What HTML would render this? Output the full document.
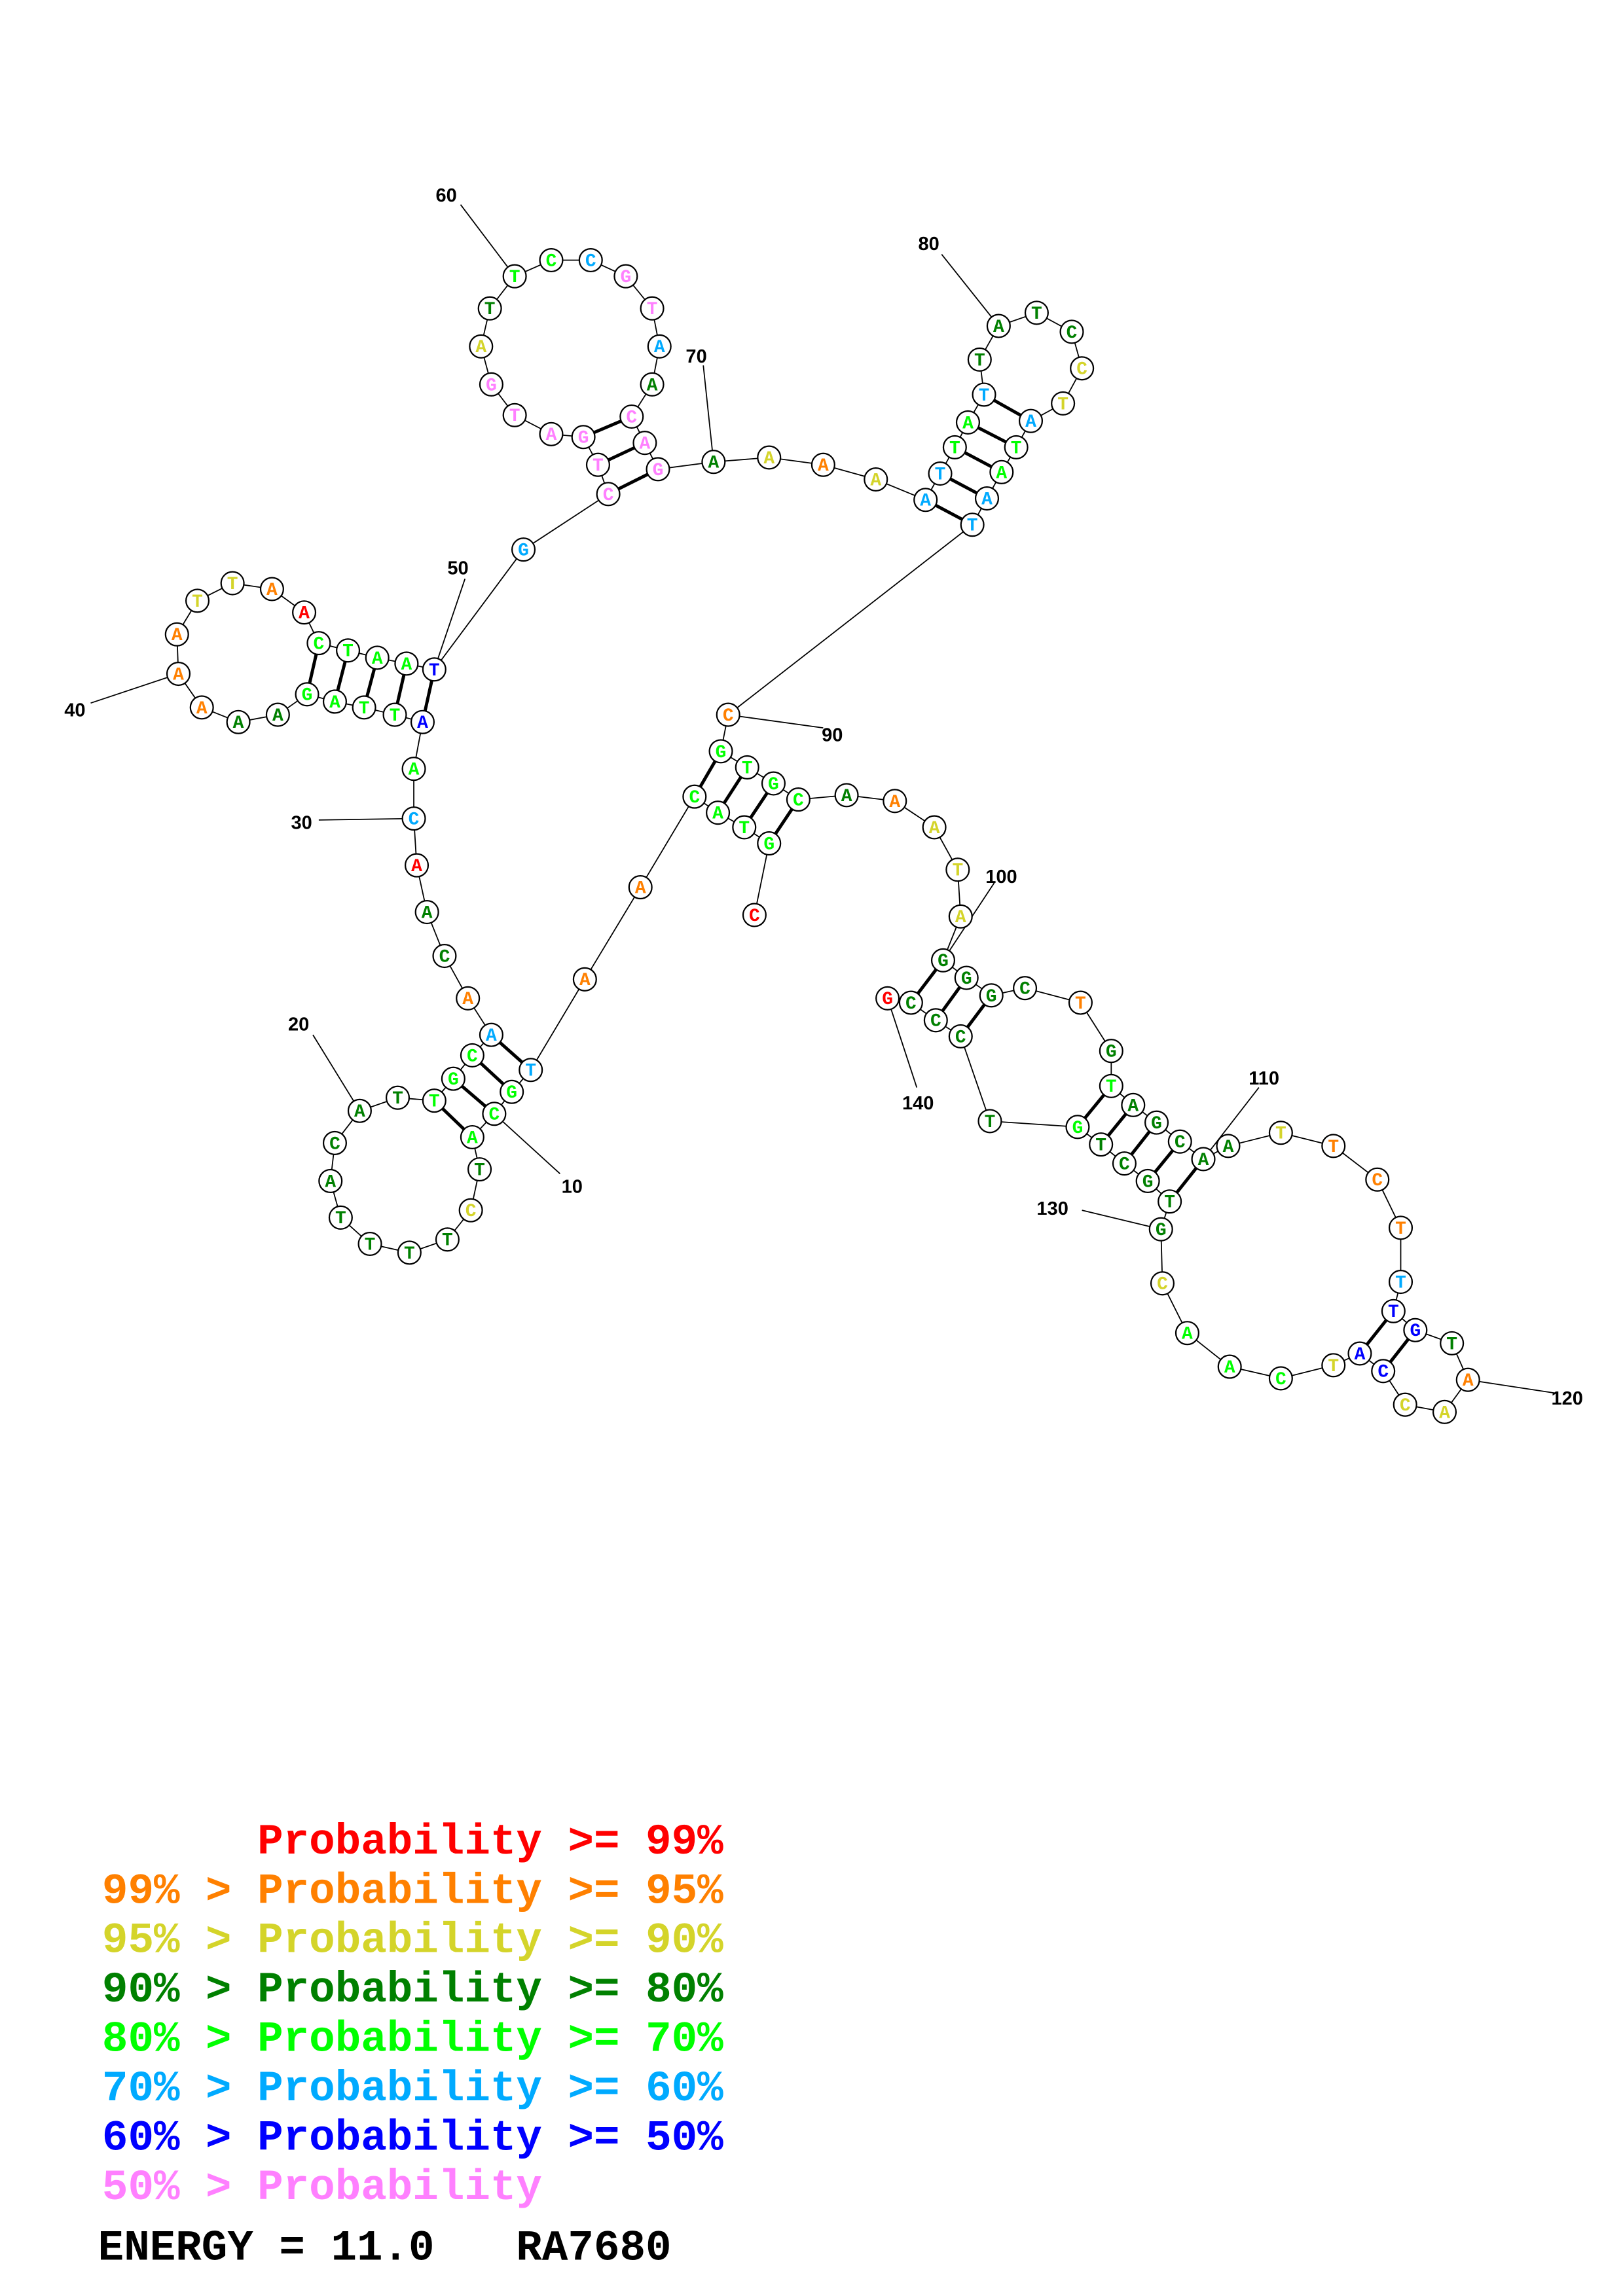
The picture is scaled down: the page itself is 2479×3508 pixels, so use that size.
<!DOCTYPE html>
<html><head><meta charset="utf-8"><style>
html,body{margin:0;padding:0;background:#fff}
svg{display:block}
circle{fill:#fff;stroke:#000;stroke-width:1}
.n text{font-family:"Liberation Mono",monospace;font-weight:bold;font-size:12.5px;text-anchor:middle}
.r{fill:#ff0000}.o{fill:#ff8000}.y{fill:#d4d42a}.d{fill:#008000}.g{fill:#00ff00}.s{fill:#00aaff}.b{fill:#0000ff}.p{fill:#ff80ff}
.lbl{font-family:"Liberation Sans",sans-serif;font-weight:bold;font-size:13px;fill:#000}
.leg{font-family:"Liberation Mono",monospace;font-weight:bold;font-size:29.5px}
</style></head><body>
<svg width="2479" height="3508" viewBox="0 0 1110 1570.8" xmlns="http://www.w3.org/2000/svg">
<rect width="1110" height="1570.8" fill="#fff"/>
<polyline fill="none" stroke="#000" stroke-width="0.8" points="516,626 526,577 509,566 491,556 475,545 438,607 400,670 363,732 350,747 338,762 323,778 328,800 322,828 306,848 280,857 253,851 233,833 226,808 229,782 246,760 272,751 297,753 310,738 323,722 336,708 320,683 304,654 292,624 285,592 283,560 283,526 289,494 270,489 249,484 229,480 210,475 190,489 163,494 138,484 122,461 121,434 135,411 159,399 186,403 208,419 218,440 238,445 258,450 278,454 297,458 358,376 416,338 409,318 399,299 377,297 352,284 336,263 329,237 335,211 352,189 377,178 404,178 428,189 446,211 451,237 446,263 432,285 441,303 450,321 488,316 526,313 563,318 599,328 633,342 643,324 653,306 662,289 673,270 670,246 683,223 709,214 733,227 740,252 727,276 705,288 695,306 685,323 675,341 665,359 498,489 493,514 511,525 529,536 546,547 579,544 612,548 639,566 655,595 657,627 645,657 661,669 678,681 701,676 739,686 760,719 760,743 775,756 791,768 807,781 823,793 840,784 876,775 912,784 942,807 958,840 958,877 953,897 968,910 993,919 1004,944 988,966 961,961 946,938 930,926 912,934 876,943 841,935 812,912 795,878 794,841 800,822 785,808 769,796 753,783 737,771 677,767 657,709 640,698 623,686 607,683"/>
<g stroke="#000" stroke-width="2.2">
<line x1="526" y1="577" x2="546" y2="547"/><line x1="509" y1="566" x2="529" y2="536"/><line x1="491" y1="556" x2="511" y2="525"/><line x1="475" y1="545" x2="493" y2="514"/>
<line x1="363" y1="732" x2="336" y2="708"/><line x1="350" y1="747" x2="323" y2="722"/><line x1="338" y1="762" x2="310" y2="738"/><line x1="323" y1="778" x2="297" y2="753"/>
<line x1="289" y1="494" x2="297" y2="458"/><line x1="270" y1="489" x2="278" y2="454"/><line x1="249" y1="484" x2="258" y2="450"/><line x1="229" y1="480" x2="238" y2="445"/><line x1="210" y1="475" x2="218" y2="440"/>
<line x1="416" y1="338" x2="450" y2="321"/><line x1="409" y1="318" x2="441" y2="303"/><line x1="399" y1="299" x2="432" y2="285"/>
<line x1="633" y1="342" x2="665" y2="359"/><line x1="643" y1="324" x2="675" y2="341"/><line x1="653" y1="306" x2="685" y2="323"/><line x1="662" y1="289" x2="695" y2="306"/><line x1="673" y1="270" x2="705" y2="288"/>
<line x1="645" y1="657" x2="623" y2="686"/><line x1="661" y1="669" x2="640" y2="698"/><line x1="678" y1="681" x2="657" y2="709"/>
<line x1="760" y1="743" x2="737" y2="771"/><line x1="775" y1="756" x2="753" y2="783"/><line x1="791" y1="768" x2="769" y2="796"/><line x1="807" y1="781" x2="785" y2="808"/><line x1="823" y1="793" x2="800" y2="822"/>
<line x1="953" y1="897" x2="930" y2="926"/><line x1="968" y1="910" x2="946" y2="938"/>
</g>
<g stroke="#000" stroke-width="0.8">
<line x1="383" y1="803" x2="338" y2="762"/><line x1="214" y1="708" x2="246" y2="760"/><line x1="218" y1="561" x2="283" y2="560"/><line x1="62" y1="481" x2="122" y2="461"/><line x1="318" y1="396" x2="297" y2="458"/><line x1="315" y1="140" x2="352" y2="189"/><line x1="481" y1="250" x2="488" y2="316"/><line x1="644" y1="174" x2="683" y2="223"/><line x1="563" y1="498" x2="498" y2="489"/><line x1="680" y1="604" x2="645" y2="657"/><line x1="861" y1="744" x2="823" y2="793"/><line x1="1063" y1="953" x2="1004" y2="944"/><line x1="740" y1="828" x2="794" y2="841"/><line x1="627" y1="744" x2="607" y2="683"/>
</g>
<g class="lbl">
<text x="384" y="816">10</text><text x="197" y="705">20</text><text x="199" y="567">30</text><text x="44" y="490">40</text><text x="306" y="393">50</text><text x="298" y="138">60</text><text x="469" y="248">70</text><text x="628" y="171">80</text><text x="562" y="507">90</text><text x="674" y="604">100</text><text x="854" y="742">110</text><text x="1061" y="961">120</text><text x="709" y="831">130</text><text x="617" y="759">140</text>
</g>
<g class="n">
<circle cx="516" cy="626" r="7.8"/><text x="516" y="630" class="r">C</text>
<circle cx="526" cy="577" r="7.8"/><text x="526" y="581" class="g">G</text>
<circle cx="509" cy="566" r="7.8"/><text x="509" y="570" class="g">T</text>
<circle cx="491" cy="556" r="7.8"/><text x="491" y="560" class="g">A</text>
<circle cx="475" cy="545" r="7.8"/><text x="475" y="549" class="g">C</text>
<circle cx="438" cy="607" r="7.8"/><text x="438" y="611" class="o">A</text>
<circle cx="400" cy="670" r="7.8"/><text x="400" y="674" class="o">A</text>
<circle cx="363" cy="732" r="7.8"/><text x="363" y="736" class="s">T</text>
<circle cx="350" cy="747" r="7.8"/><text x="350" y="751" class="g">G</text>
<circle cx="338" cy="762" r="7.8"/><text x="338" y="766" class="g">C</text>
<circle cx="323" cy="778" r="7.8"/><text x="323" y="782" class="g">A</text>
<circle cx="328" cy="800" r="7.8"/><text x="328" y="804" class="d">T</text>
<circle cx="322" cy="828" r="7.8"/><text x="322" y="832" class="y">C</text>
<circle cx="306" cy="848" r="7.8"/><text x="306" y="852" class="d">T</text>
<circle cx="280" cy="857" r="7.8"/><text x="280" y="861" class="d">T</text>
<circle cx="253" cy="851" r="7.8"/><text x="253" y="855" class="d">T</text>
<circle cx="233" cy="833" r="7.8"/><text x="233" y="837" class="d">T</text>
<circle cx="226" cy="808" r="7.8"/><text x="226" y="812" class="d">A</text>
<circle cx="229" cy="782" r="7.8"/><text x="229" y="786" class="d">C</text>
<circle cx="246" cy="760" r="7.8"/><text x="246" y="764" class="d">A</text>
<circle cx="272" cy="751" r="7.8"/><text x="272" y="755" class="d">T</text>
<circle cx="297" cy="753" r="7.8"/><text x="297" y="757" class="g">T</text>
<circle cx="310" cy="738" r="7.8"/><text x="310" y="742" class="g">G</text>
<circle cx="323" cy="722" r="7.8"/><text x="323" y="726" class="g">C</text>
<circle cx="336" cy="708" r="7.8"/><text x="336" y="712" class="s">A</text>
<circle cx="320" cy="683" r="7.8"/><text x="320" y="687" class="o">A</text>
<circle cx="304" cy="654" r="7.8"/><text x="304" y="658" class="d">C</text>
<circle cx="292" cy="624" r="7.8"/><text x="292" y="628" class="d">A</text>
<circle cx="285" cy="592" r="7.8"/><text x="285" y="596" class="r">A</text>
<circle cx="283" cy="560" r="7.8"/><text x="283" y="564" class="s">C</text>
<circle cx="283" cy="526" r="7.8"/><text x="283" y="530" class="g">A</text>
<circle cx="289" cy="494" r="7.8"/><text x="289" y="498" class="b">A</text>
<circle cx="270" cy="489" r="7.8"/><text x="270" y="493" class="g">T</text>
<circle cx="249" cy="484" r="7.8"/><text x="249" y="488" class="g">T</text>
<circle cx="229" cy="480" r="7.8"/><text x="229" y="484" class="g">A</text>
<circle cx="210" cy="475" r="7.8"/><text x="210" y="479" class="g">G</text>
<circle cx="190" cy="489" r="7.8"/><text x="190" y="493" class="d">A</text>
<circle cx="163" cy="494" r="7.8"/><text x="163" y="498" class="d">A</text>
<circle cx="138" cy="484" r="7.8"/><text x="138" y="488" class="o">A</text>
<circle cx="122" cy="461" r="7.8"/><text x="122" y="465" class="o">A</text>
<circle cx="121" cy="434" r="7.8"/><text x="121" y="438" class="o">A</text>
<circle cx="135" cy="411" r="7.8"/><text x="135" y="415" class="y">T</text>
<circle cx="159" cy="399" r="7.8"/><text x="159" y="403" class="y">T</text>
<circle cx="186" cy="403" r="7.8"/><text x="186" y="407" class="o">A</text>
<circle cx="208" cy="419" r="7.8"/><text x="208" y="423" class="r">A</text>
<circle cx="218" cy="440" r="7.8"/><text x="218" y="444" class="g">C</text>
<circle cx="238" cy="445" r="7.8"/><text x="238" y="449" class="g">T</text>
<circle cx="258" cy="450" r="7.8"/><text x="258" y="454" class="g">A</text>
<circle cx="278" cy="454" r="7.8"/><text x="278" y="458" class="g">A</text>
<circle cx="297" cy="458" r="7.8"/><text x="297" y="462" class="b">T</text>
<circle cx="358" cy="376" r="7.8"/><text x="358" y="380" class="s">G</text>
<circle cx="416" cy="338" r="7.8"/><text x="416" y="342" class="p">C</text>
<circle cx="409" cy="318" r="7.8"/><text x="409" y="322" class="p">T</text>
<circle cx="399" cy="299" r="7.8"/><text x="399" y="303" class="p">G</text>
<circle cx="377" cy="297" r="7.8"/><text x="377" y="301" class="p">A</text>
<circle cx="352" cy="284" r="7.8"/><text x="352" y="288" class="p">T</text>
<circle cx="336" cy="263" r="7.8"/><text x="336" y="267" class="p">G</text>
<circle cx="329" cy="237" r="7.8"/><text x="329" y="241" class="y">A</text>
<circle cx="335" cy="211" r="7.8"/><text x="335" y="215" class="d">T</text>
<circle cx="352" cy="189" r="7.8"/><text x="352" y="193" class="g">T</text>
<circle cx="377" cy="178" r="7.8"/><text x="377" y="182" class="g">C</text>
<circle cx="404" cy="178" r="7.8"/><text x="404" y="182" class="s">C</text>
<circle cx="428" cy="189" r="7.8"/><text x="428" y="193" class="p">G</text>
<circle cx="446" cy="211" r="7.8"/><text x="446" y="215" class="p">T</text>
<circle cx="451" cy="237" r="7.8"/><text x="451" y="241" class="s">A</text>
<circle cx="446" cy="263" r="7.8"/><text x="446" y="267" class="d">A</text>
<circle cx="432" cy="285" r="7.8"/><text x="432" y="289" class="p">C</text>
<circle cx="441" cy="303" r="7.8"/><text x="441" y="307" class="p">A</text>
<circle cx="450" cy="321" r="7.8"/><text x="450" y="325" class="p">G</text>
<circle cx="488" cy="316" r="7.8"/><text x="488" y="320" class="d">A</text>
<circle cx="526" cy="313" r="7.8"/><text x="526" y="317" class="y">A</text>
<circle cx="563" cy="318" r="7.8"/><text x="563" y="322" class="o">A</text>
<circle cx="599" cy="328" r="7.8"/><text x="599" y="332" class="y">A</text>
<circle cx="633" cy="342" r="7.8"/><text x="633" y="346" class="s">A</text>
<circle cx="643" cy="324" r="7.8"/><text x="643" y="328" class="s">T</text>
<circle cx="653" cy="306" r="7.8"/><text x="653" y="310" class="g">T</text>
<circle cx="662" cy="289" r="7.8"/><text x="662" y="293" class="g">A</text>
<circle cx="673" cy="270" r="7.8"/><text x="673" y="274" class="s">T</text>
<circle cx="670" cy="246" r="7.8"/><text x="670" y="250" class="d">T</text>
<circle cx="683" cy="223" r="7.8"/><text x="683" y="227" class="d">A</text>
<circle cx="709" cy="214" r="7.8"/><text x="709" y="218" class="d">T</text>
<circle cx="733" cy="227" r="7.8"/><text x="733" y="231" class="d">C</text>
<circle cx="740" cy="252" r="7.8"/><text x="740" y="256" class="y">C</text>
<circle cx="727" cy="276" r="7.8"/><text x="727" y="280" class="y">T</text>
<circle cx="705" cy="288" r="7.8"/><text x="705" y="292" class="s">A</text>
<circle cx="695" cy="306" r="7.8"/><text x="695" y="310" class="g">T</text>
<circle cx="685" cy="323" r="7.8"/><text x="685" y="327" class="g">A</text>
<circle cx="675" cy="341" r="7.8"/><text x="675" y="345" class="s">A</text>
<circle cx="665" cy="359" r="7.8"/><text x="665" y="363" class="s">T</text>
<circle cx="498" cy="489" r="7.8"/><text x="498" y="493" class="o">C</text>
<circle cx="493" cy="514" r="7.8"/><text x="493" y="518" class="g">G</text>
<circle cx="511" cy="525" r="7.8"/><text x="511" y="529" class="g">T</text>
<circle cx="529" cy="536" r="7.8"/><text x="529" y="540" class="g">G</text>
<circle cx="546" cy="547" r="7.8"/><text x="546" y="551" class="g">C</text>
<circle cx="579" cy="544" r="7.8"/><text x="579" y="548" class="d">A</text>
<circle cx="612" cy="548" r="7.8"/><text x="612" y="552" class="o">A</text>
<circle cx="639" cy="566" r="7.8"/><text x="639" y="570" class="y">A</text>
<circle cx="655" cy="595" r="7.8"/><text x="655" y="599" class="y">T</text>
<circle cx="657" cy="627" r="7.8"/><text x="657" y="631" class="y">A</text>
<circle cx="645" cy="657" r="7.8"/><text x="645" y="661" class="d">G</text>
<circle cx="661" cy="669" r="7.8"/><text x="661" y="673" class="d">G</text>
<circle cx="678" cy="681" r="7.8"/><text x="678" y="685" class="d">G</text>
<circle cx="701" cy="676" r="7.8"/><text x="701" y="680" class="d">C</text>
<circle cx="739" cy="686" r="7.8"/><text x="739" y="690" class="o">T</text>
<circle cx="760" cy="719" r="7.8"/><text x="760" y="723" class="d">G</text>
<circle cx="760" cy="743" r="7.8"/><text x="760" y="747" class="g">T</text>
<circle cx="775" cy="756" r="7.8"/><text x="775" y="760" class="d">A</text>
<circle cx="791" cy="768" r="7.8"/><text x="791" y="772" class="d">G</text>
<circle cx="807" cy="781" r="7.8"/><text x="807" y="785" class="d">C</text>
<circle cx="823" cy="793" r="7.8"/><text x="823" y="797" class="d">A</text>
<circle cx="840" cy="784" r="7.8"/><text x="840" y="788" class="d">A</text>
<circle cx="876" cy="775" r="7.8"/><text x="876" y="779" class="y">T</text>
<circle cx="912" cy="784" r="7.8"/><text x="912" y="788" class="o">T</text>
<circle cx="942" cy="807" r="7.8"/><text x="942" y="811" class="o">C</text>
<circle cx="958" cy="840" r="7.8"/><text x="958" y="844" class="o">T</text>
<circle cx="958" cy="877" r="7.8"/><text x="958" y="881" class="s">T</text>
<circle cx="953" cy="897" r="7.8"/><text x="953" y="901" class="b">T</text>
<circle cx="968" cy="910" r="7.8"/><text x="968" y="914" class="b">G</text>
<circle cx="993" cy="919" r="7.8"/><text x="993" y="923" class="d">T</text>
<circle cx="1004" cy="944" r="7.8"/><text x="1004" y="948" class="o">A</text>
<circle cx="988" cy="966" r="7.8"/><text x="988" y="970" class="y">A</text>
<circle cx="961" cy="961" r="7.8"/><text x="961" y="965" class="y">C</text>
<circle cx="946" cy="938" r="7.8"/><text x="946" y="942" class="b">C</text>
<circle cx="930" cy="926" r="7.8"/><text x="930" y="930" class="b">A</text>
<circle cx="912" cy="934" r="7.8"/><text x="912" y="938" class="y">T</text>
<circle cx="876" cy="943" r="7.8"/><text x="876" y="947" class="g">C</text>
<circle cx="841" cy="935" r="7.8"/><text x="841" y="939" class="g">A</text>
<circle cx="812" cy="912" r="7.8"/><text x="812" y="916" class="g">A</text>
<circle cx="795" cy="878" r="7.8"/><text x="795" y="882" class="y">C</text>
<circle cx="794" cy="841" r="7.8"/><text x="794" y="845" class="d">G</text>
<circle cx="800" cy="822" r="7.8"/><text x="800" y="826" class="d">T</text>
<circle cx="785" cy="808" r="7.8"/><text x="785" y="812" class="d">G</text>
<circle cx="769" cy="796" r="7.8"/><text x="769" y="800" class="d">C</text>
<circle cx="753" cy="783" r="7.8"/><text x="753" y="787" class="d">T</text>
<circle cx="737" cy="771" r="7.8"/><text x="737" y="775" class="g">G</text>
<circle cx="677" cy="767" r="7.8"/><text x="677" y="771" class="d">T</text>
<circle cx="657" cy="709" r="7.8"/><text x="657" y="713" class="d">C</text>
<circle cx="640" cy="698" r="7.8"/><text x="640" y="702" class="d">C</text>
<circle cx="623" cy="686" r="7.8"/><text x="623" y="690" class="d">C</text>
<circle cx="607" cy="683" r="7.8"/><text x="607" y="687" class="r">G</text>
</g>
<g class="leg">
<text x="176" y="1268" class="r">Probability &gt;= 99%</text>
<text x="69.8" y="1301.8" class="o">99% &gt; Probability &gt;= 95%</text>
<text x="69.8" y="1335.6" class="y">95% &gt; Probability &gt;= 90%</text>
<text x="69.8" y="1369.4" class="d">90% &gt; Probability &gt;= 80%</text>
<text x="69.8" y="1403.2" class="g">80% &gt; Probability &gt;= 70%</text>
<text x="69.8" y="1437" class="s">70% &gt; Probability &gt;= 60%</text>
<text x="69.8" y="1470.8" class="b">60% &gt; Probability &gt;= 50%</text>
<text x="69.8" y="1504.6" class="p">50% &gt; Probability</text>
<text x="67" y="1546" fill="#000">ENERGY = 11.0</text>
<text x="353" y="1546" fill="#000">RA7680</text>
</g>
</svg>
</body></html>
